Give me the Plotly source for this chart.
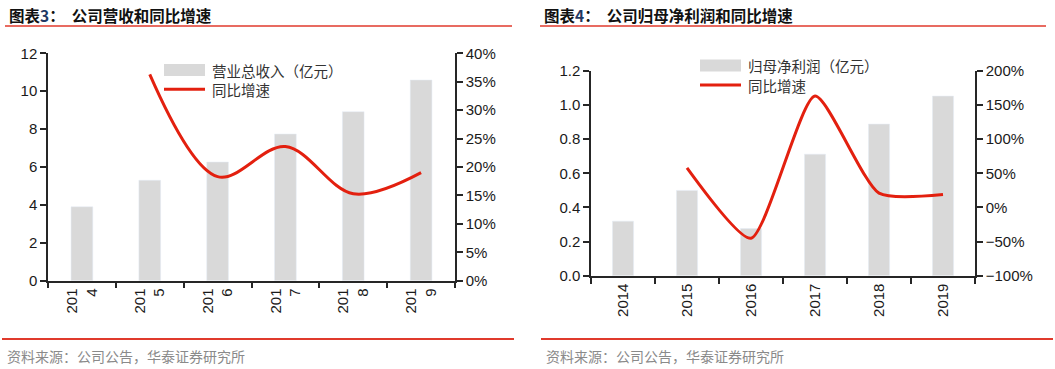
import plotly.graph_objects as go

# ---------------- data ----------------
years = ["2014", "2015", "2016", "2017", "2018", "2019"]
left_tick_labels = ["201<br>4", "201<br>5", "201<br>6", "201<br>7", "201<br>8", "201<br>9"]
right_tick_labels = ["2014", "2015", "2016", "2017", "2018", "2019"]

revenue = [3.90, 5.30, 6.26, 7.74, 8.92, 10.59]          # 营业总收入（亿元）
revenue_growth = [36.3, 18.3, 23.6, 15.3, 19.0]           # % for 2015-2019

net_profit = [0.32, 0.50, 0.277, 0.712, 0.888, 1.052]     # 归母净利润（亿元）
profit_growth = [58.0, -45.0, 163.0, 21.0, 19.0]          # % for 2015-2019

left_title_num = "3"
right_title_num = "4"
left_title = "公司营收和同比增速"
right_title = "公司归母净利润和同比增速"
left_bar_name = "营业总收入（亿元）"
right_bar_name = "归母净利润（亿元）"
line_name = "同比增速"
source_text = "资料来源：公司公告，华泰证券研究所"

# ---------------- style ----------------
W, H = 1055, 369
BAR = "#d9d9d9"
LINE = "#e3200f"
RED = "#e03a2c"
AX = "#262626"
TICKFONT = dict(family="Liberation Sans, Arial", size=15, color="#1a1a1a")
CJK = "Noto Sans CJK SC"


def px(x):
    return x / W


def py(y):
    return 1 - y / H


fig = go.Figure()

fig.add_trace(go.Bar(x=years, y=revenue, name=left_bar_name, marker_color=BAR,
                     width=0.32, xaxis="x", yaxis="y", showlegend=False))
fig.add_trace(go.Scatter(x=years[1:], y=revenue_growth, name=line_name, mode="lines",
                         line=dict(color=LINE, width=3, shape="spline", smoothing=1),
                         xaxis="x", yaxis="y2", showlegend=False))
fig.add_trace(go.Bar(x=years, y=net_profit, name=right_bar_name, marker_color=BAR,
                     width=0.33, xaxis="x2", yaxis="y3", showlegend=False))
fig.add_trace(go.Scatter(x=years[1:], y=profit_growth, name=line_name, mode="lines",
                         line=dict(color=LINE, width=3, shape="spline", smoothing=0.6),
                         xaxis="x2", yaxis="y4", showlegend=False))

axis_common = dict(showline=True, linecolor=AX, linewidth=1.5, ticks="outside",
                   tickcolor=AX, tickwidth=1.5, ticklen=6, showgrid=False,
                   zeroline=False, tickfont=TICKFONT, automargin=False)

L_dom_x = [px(48), px(455)]
L_dom_y = [py(280.7), py(53.3)]
R_dom_x = [px(591), px(975)]
R_dom_y = [py(275.8), py(70.8)]

fig.update_layout(
    width=W, height=H, autosize=False,
    margin=dict(l=0, r=0, t=0, b=0, pad=0),
    paper_bgcolor="white", plot_bgcolor="rgba(0,0,0,0)",
    xaxis=dict(domain=L_dom_x, anchor="y", type="category", tickson="boundaries",
               tickvals=years, ticktext=left_tick_labels, tickangle=-90,
               range=[-0.5, 5.5], **axis_common),
    yaxis=dict(domain=L_dom_y, anchor="x", range=[0, 12], dtick=2, **axis_common),
    yaxis2=dict(overlaying="y", side="right", anchor="x", range=[0, 40], dtick=5,
                ticksuffix="%", **axis_common),
    xaxis2=dict(domain=R_dom_x, anchor="y3", type="category", tickson="boundaries",
                tickvals=years, ticktext=right_tick_labels, tickangle=-90,
                range=[-0.5, 5.5], **axis_common),
    yaxis3=dict(domain=R_dom_y, anchor="x2", range=[0, 1.2], dtick=0.2,
                tickformat=".1f", **axis_common),
    yaxis4=dict(overlaying="y3", side="right", anchor="x2", range=[-100, 200], dtick=50,
                ticksuffix="%", **axis_common),
)

shapes = []
annotations = []

# header / footer lines and texts
for x0, x1, num, title in [(5, 512, left_title_num, left_title),
                           (540, 1046, right_title_num, right_title)]:
    shapes.append(dict(type="line", xref="paper", yref="paper", x0=px(x0), x1=px(x1),
                       y0=py(26), y1=py(26), line=dict(color=RED, width=1.5)))
    annotations.append(dict(xref="paper", yref="paper", x=px(x0 + 2), y=py(15),
                            xanchor="left", yanchor="middle", showarrow=False,
                            text=f"<b>图表<span style='color:#1f3864'>{num}</span>：  {title}</b>",
                            font=dict(family=CJK, size=15.5, color="#111111")))
for x0, x1 in [(2, 514), (541, 1053)]:
    shapes.append(dict(type="line", xref="paper", yref="paper", x0=px(x0), x1=px(x1),
                       y0=py(339), y1=py(339), line=dict(color=RED, width=2)))
    annotations.append(dict(xref="paper", yref="paper", x=px(x0 + 3), y=py(356),
                            xanchor="left", yanchor="middle", showarrow=False,
                            text=source_text,
                            font=dict(family=CJK, size=14, color="#8a8a8a")))

# manual legends
for sx, sy_bar, sy_line, bar_name in [(164, 70, 89.3, left_bar_name),
                                      (700, 65.5, 85, right_bar_name)]:
    shapes.append(dict(type="rect", xref="paper", yref="paper", x0=px(sx), x1=px(sx + 41),
                       y0=py(sy_bar + 6), y1=py(sy_bar - 6), fillcolor=BAR, line=dict(width=0)))
    shapes.append(dict(type="line", xref="paper", yref="paper", x0=px(sx), x1=px(sx + 41),
                       y0=py(sy_line), y1=py(sy_line), line=dict(color=LINE, width=3)))
    annotations.append(dict(xref="paper", yref="paper", x=px(sx + 46), y=py(sy_bar),
                            xanchor="left", yanchor="middle", showarrow=False, text=bar_name,
                            font=dict(family=CJK, size=14.5, color="#333333")))
    annotations.append(dict(xref="paper", yref="paper", x=px(sx + 46), y=py(sy_line),
                            xanchor="left", yanchor="middle", showarrow=False, text=line_name,
                            font=dict(family=CJK, size=14.5, color="#333333")))

fig.update_layout(shapes=shapes, annotations=annotations)

fig.write_html(
    "out.html",
    config={"displayModeBar": False},
    post_script="document.body.style.margin='0';document.body.style.padding='0';"
                "document.body.style.overflow='hidden';",
)
